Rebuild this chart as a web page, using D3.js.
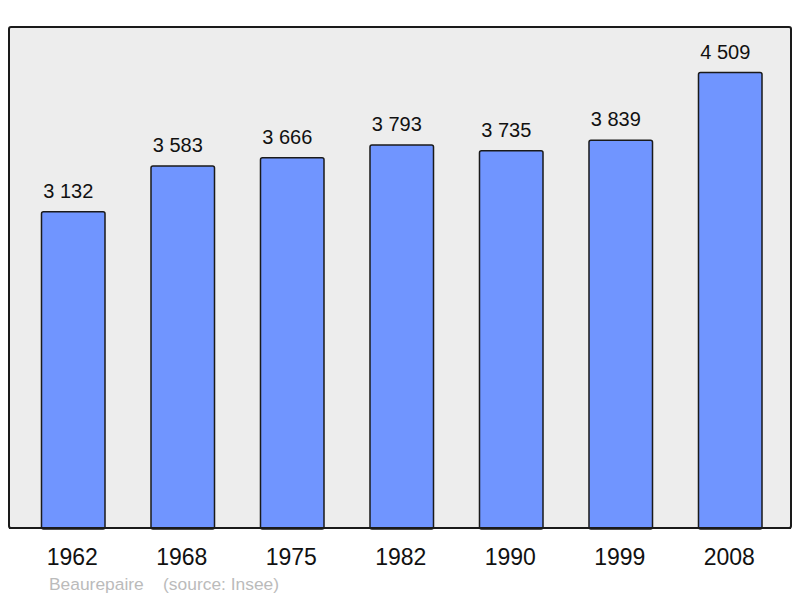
<!DOCTYPE html>
<html>
<head>
<meta charset="utf-8">
<script src="https://cdn.jsdelivr.net/npm/d3@7"></script>
<style>
  body { margin: 0; background: #fff; }
  svg { display: block; font-family: "Liberation Sans", Arial, sans-serif; }
</style>
</head>
<body>
<svg width="800" height="598"></svg>
<script>
// population by census year
const years = ["1962", "1968", "1975", "1982", "1990", "1999", "2008"];
const population = [3132, 3583, 3666, 3793, 3735, 3839, 4509];
const labels = ["3 132", "3 583", "3 666", "3 793", "3 735", "3 839", "4 509"];

const svg = d3.select("svg");

const panel = { x: 9, y: 27, w: 782, h: 501 };

svg.append("rect")
    .attr("x", panel.x)
    .attr("y", panel.y)
    .attr("width", panel.w)
    .attr("height", panel.h)
    .attr("rx", 2)
    .style("fill", "#ededed")
    .style("stroke", "#1a1a1a")
    .style("stroke-width", 2);

const x = d3.scaleBand()
    .domain(years)
    .range([18.5, 785])
    .paddingInner(0.42)
    .paddingOuter(0.21);

const y = d3.scaleLinear()
    .domain([0, 4960])
    .range([panel.y + panel.h, panel.y]);

const data = years.map((yr, i) => ({ year: yr, value: population[i], label: labels[i] }));

svg.append("g")
    .selectAll("rect")
    .data(data)
    .enter().append("rect")
    .attr("x", d => x(d.year))
    .attr("y", d => y(d.value))
    .attr("width", x.bandwidth())
    .attr("height", d => y(0) - y(d.value) + 1)
    .attr("rx", 2)
    .style("fill", "#7095ff")
    .style("stroke", "#1a1a1a")
    .style("stroke-width", 1.5);

// redraw the bottom edge of the panel over the bars
svg.append("line")
    .attr("x1", panel.x)
    .attr("x2", panel.x + panel.w)
    .attr("y1", panel.y + panel.h)
    .attr("y2", panel.y + panel.h)
    .style("stroke", "#1a1a1a")
    .style("stroke-width", 2);

svg.append("g")
    .selectAll("text")
    .data(data)
    .enter().append("text")
    .attr("x", d => x(d.year) + x.bandwidth() / 2 - 5)
    .attr("y", d => y(d.value) - 14)
    .attr("text-anchor", "middle")
    .style("font-size", "20px")
    .style("fill", "#111")
    .text(d => d.label);

svg.append("g")
    .selectAll("text")
    .data(years)
    .enter().append("text")
    .attr("x", d => x(d) + x.bandwidth() / 2 - 1)
    .attr("y", 565)
    .attr("text-anchor", "middle")
    .style("font-size", "23px")
    .style("fill", "#111")
    .text(d => d);

svg.append("text")
    .attr("x", 49)
    .attr("y", 590)
    .style("font-size", "17.4px")
    .style("fill", "#bbbbbb")
    .attr("xml:space", "preserve")
    .text("Beaurepaire    (source: Insee)");
</script>
</body>
</html>
